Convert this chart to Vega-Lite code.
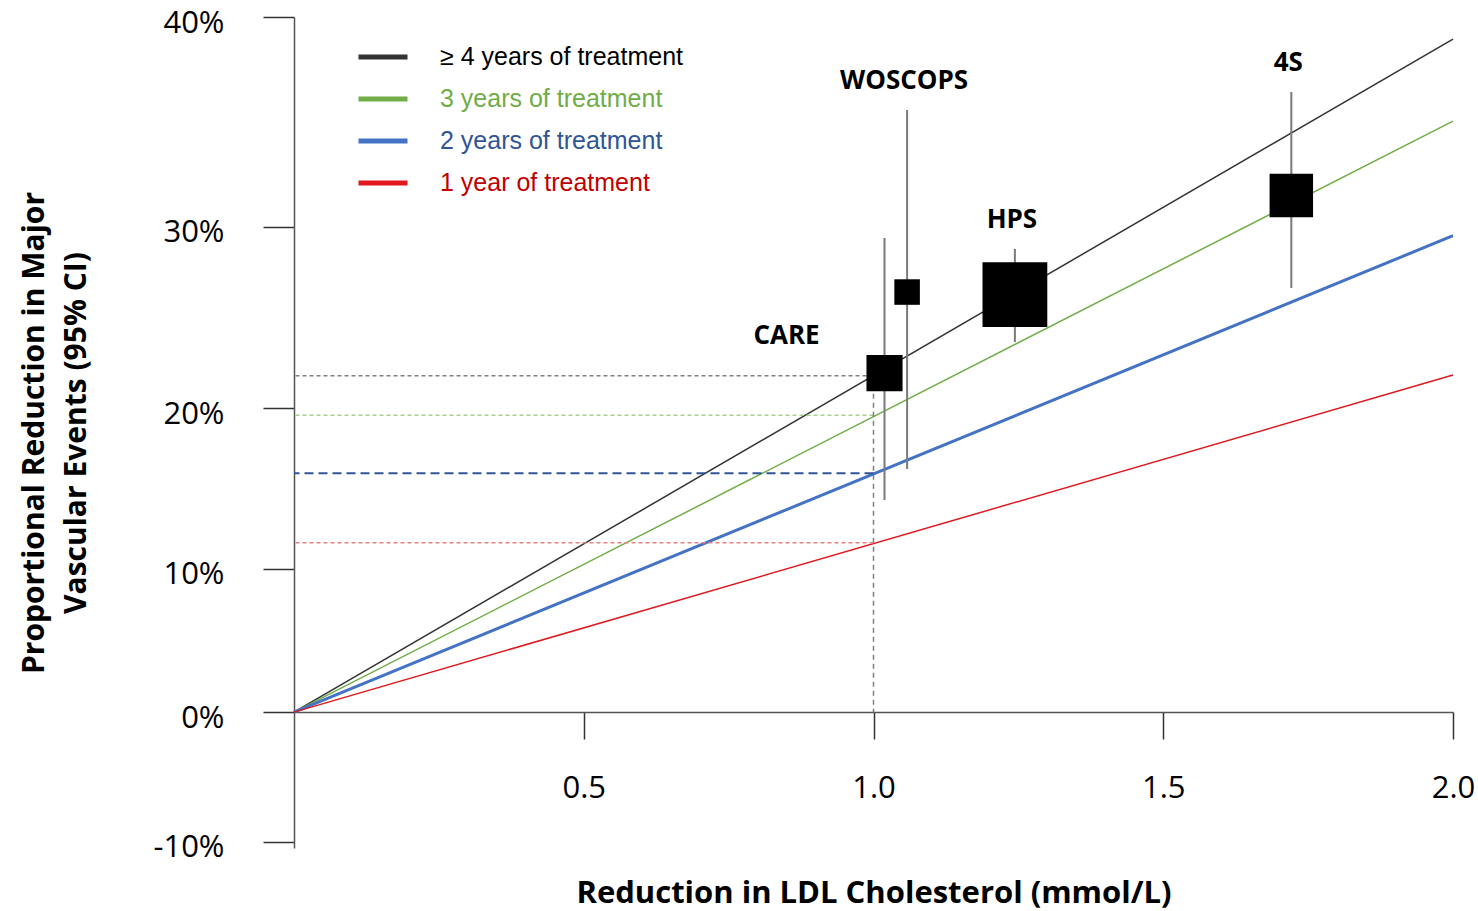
{
  "$schema": "https://vega.github.io/schema/vega-lite/v6.json",
  "width": 1159,
  "height": 831,
  "autosize": {"type": "none"},
  "padding": {"left": 294, "top": 17, "right": 25, "bottom": 63},
  "background": "white",
  "config": {
    "view": {"stroke": null},
    "axis": {"grid": false, "labelColor": "black", "titleColor": "black"}
  },
  "datasets": {
    "treatment": [
      {"series": "≥ 4 years of treatment", "ldl": 0, "rr": 1},
      {"series": "≥ 4 years of treatment", "ldl": 2, "rr": 0.6098},
      {"series": "3 years of treatment", "ldl": 0, "rr": 1},
      {"series": "3 years of treatment", "ldl": 2, "rr": 0.6477},
      {"series": "2 years of treatment", "ldl": 0, "rr": 1},
      {"series": "2 years of treatment", "ldl": 2, "rr": 0.7046},
      {"series": "1 year of treatment", "ldl": 0, "rr": 1},
      {"series": "1 year of treatment", "ldl": 2, "rr": 0.7806}
    ],
    "at_one": [
      {"series": "≥ 4 years of treatment", "ldl": 1, "rr": 0.781},
      {"series": "3 years of treatment", "ldl": 1, "rr": 0.804},
      {"series": "2 years of treatment", "ldl": 1, "rr": 0.839},
      {"series": "1 year of treatment", "ldl": 1, "rr": 0.883}
    ],
    "trials": [
      {"trial": "CARE", "ldl": 1.019, "rr": 0.7795, "rr_low": 0.7058, "rr_high": 0.8557, "weight": 16.2},
      {"trial": "WOSCOPS", "ldl": 1.058, "rr": 0.7344, "rr_low": 0.6424, "rr_high": 0.8364, "weight": 8.1},
      {"trial": "HPS", "ldl": 1.244, "rr": 0.7358, "rr_low": 0.7115, "rr_high": 0.7619, "weight": 52.2},
      {"trial": "4S", "ldl": 1.721, "rr": 0.6841, "rr_low": 0.634, "rr_high": 0.7322, "weight": 23.5}
    ]
  },
  "layer": [
    {
      "data": {"name": "treatment"},
      "mark": {"type": "line"},
      "encoding": {
        "x": {
          "field": "ldl", "type": "quantitative",
          "scale": {"domain": [0, 2], "nice": false, "zero": false},
          "axis": {
            "values": [0.5, 1, 1.5, 2], "format": ".1f", "offset": -136,
            "title": "Reduction in LDL Cholesterol (mmol/L)",
            "titleFont": "Open Sans", "titleFontSize": 31, "titleFontWeight": "bold",
            "titleY": 190, "titleBaseline": "alphabetic",
            "labelFont": "Open Sans", "labelFontSize": 31, "labelPadding": 34,
            "labelFlush": false, "labelOverlap": false,
            "tickSize": 27, "tickColor": "#333333", "tickWidth": 1.5,
            "domainColor": "#555555", "domainWidth": 1.5
          }
        },
        "y": {
          "field": "rr", "type": "quantitative",
          "scale": {"type": "log", "domain": [0.6, 1.105], "reverse": true, "nice": false, "zero": false},
          "axis": {
            "values": [0.6, 0.7, 0.8, 0.9, 1, 1.1],
            "labelExpr": "round((1 - datum.value) * 100) + '%'",
            "title": ["Proportional Reduction in Major", "Vascular Events (95% CI)"],
            "titleFont": "Open Sans", "titleFontSize": 30, "titleFontWeight": "bold",
            "titleLineHeight": 42, "titleX": -251, "titleBaseline": "alphabetic",
            "labelFont": "Open Sans", "labelFontSize": 31, "labelPadding": 39, "labelOffset": 6,
            "labelFlush": false, "labelOverlap": false,
            "tickSize": 31, "tickColor": "#333333", "tickWidth": 1.5,
            "domainColor": "#555555", "domainWidth": 1.5
          }
        },
        "color": {
          "field": "series", "type": "nominal",
          "scale": {
            "domain": ["≥ 4 years of treatment", "3 years of treatment", "2 years of treatment", "1 year of treatment"],
            "range": ["#333333", "#70ad47", "#4472c4", "#e0191f"]
          },
          "legend": {
            "orient": "none", "legendX": 62, "legendY": 13, "title": null, "padding": 0,
            "symbolType": "stroke", "symbolSize": 2401, "symbolStrokeWidth": 5,
            "labelFont": "Liberation Sans", "labelFontSize": 25, "labelOffset": 30,
            "labelLimit": 500, "rowPadding": 2,
            "encode": {
              "labels": {"update": {"fill": {"signal": "datum.value === '3 years of treatment' ? '#70ad47' : datum.value === '2 years of treatment' ? '#2f5597' : datum.value === '1 year of treatment' ? '#c00000' : '#000000'"}}},
              "symbols": {"update": {
                "stroke": {"signal": "datum.value === '3 years of treatment' ? '#70ad47' : datum.value === '2 years of treatment' ? '#3a5da5' : datum.value === '1 year of treatment' ? '#c80000' : '#000000'"},
                "strokeWidth": {"value": 5}, "strokeDash": {"value": []}, "opacity": {"value": 1}
              }}
            }
          }
        },
        "strokeWidth": {
          "condition": {"test": "datum.series === '2 years of treatment'", "value": 3},
          "value": 1.5
        }
      }
    },
    {
      "data": {"name": "at_one"},
      "mark": {"type": "rule"},
      "encoding": {
        "x": {"field": "ldl", "type": "quantitative"},
        "x2": {"datum": 0},
        "y": {"field": "rr", "type": "quantitative"},
        "color": {
          "condition": [
            {"test": "datum.series === '3 years of treatment'", "value": "#a9d18e"},
            {"test": "datum.series === '2 years of treatment'", "value": "#2f5597"},
            {"test": "datum.series === '1 year of treatment'", "value": "#e88080"}
          ],
          "value": "#808080"
        },
        "strokeWidth": {
          "condition": {"test": "datum.series === '2 years of treatment'", "value": 2},
          "value": 1.5
        },
        "strokeDash": {
          "condition": {"test": "datum.series === '2 years of treatment'", "value": [9, 5]},
          "value": [4, 3]
        }
      }
    },
    {
      "data": {"name": "at_one"},
      "transform": [{"filter": "datum.series === '≥ 4 years of treatment'"}],
      "mark": {"type": "rule", "color": "#7f7f7f", "strokeWidth": 1.5, "strokeDash": [5, 4]},
      "encoding": {
        "x": {"field": "ldl", "type": "quantitative"},
        "y": {"field": "rr", "type": "quantitative"},
        "y2": {"datum": 1}
      }
    },
    {
      "data": {"name": "trials"},
      "mark": {"type": "rule", "color": "#7a7a7a", "strokeWidth": 2},
      "encoding": {
        "x": {"field": "ldl", "type": "quantitative"},
        "y": {"field": "rr_low", "type": "quantitative"},
        "y2": {"field": "rr_high"}
      }
    },
    {
      "data": {"name": "trials"},
      "mark": {"type": "square", "filled": true, "color": "black", "opacity": 1},
      "encoding": {
        "x": {"field": "ldl", "type": "quantitative"},
        "y": {"field": "rr", "type": "quantitative"},
        "size": {
          "field": "weight", "type": "quantitative",
          "scale": {"type": "linear", "domain": [0, 100], "range": [0, 8040]},
          "legend": null
        }
      }
    },
    {
      "data": {"name": "trials"},
      "transform": [{"filter": "datum.trial !== 'CARE'"}],
      "mark": {"type": "text", "font": "Open Sans", "fontSize": 26, "fontWeight": "bold", "color": "black", "baseline": "middle", "align": "center", "dx": -3, "dy": -29},
      "encoding": {
        "x": {"field": "ldl", "type": "quantitative"},
        "y": {"field": "rr_low", "type": "quantitative"},
        "text": {"field": "trial"}
      }
    },
    {
      "data": {"name": "trials"},
      "transform": [{"filter": "datum.trial === 'CARE'"}],
      "mark": {"type": "text", "font": "Open Sans", "fontSize": 26, "fontWeight": "bold", "color": "black", "baseline": "middle", "align": "center", "dx": -98, "dy": -37},
      "encoding": {
        "x": {"field": "ldl", "type": "quantitative"},
        "y": {"field": "rr", "type": "quantitative"},
        "text": {"field": "trial"}
      }
    }
  ]
}
